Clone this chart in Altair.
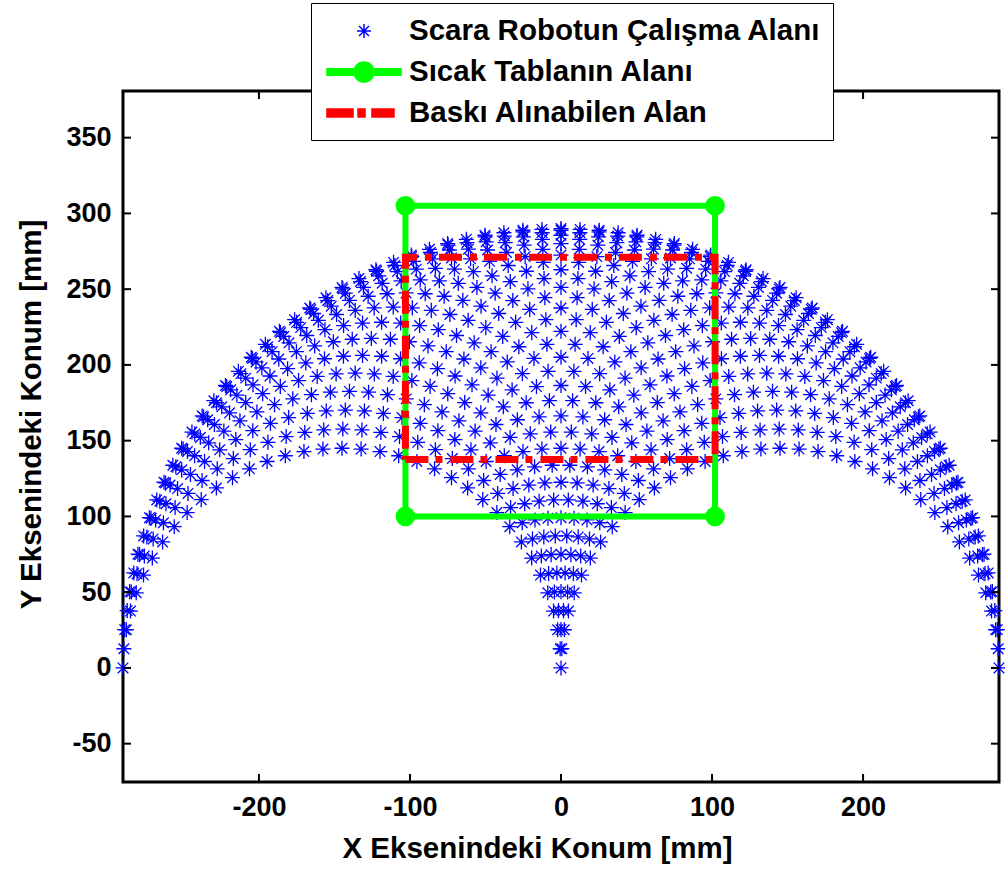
import math
import pandas as pd
import altair as alt

# ---------------- data ----------------
# SCARA arm: two equal links, absolute link angles swept in 5 degree steps
LINK_1_MM = 145.0
LINK_2_MM = 145.0
LINK_1_ANGLES_DEG = [0, 5, 10, 15, 20, 25, 30, 35, 40, 45, 50, 55, 60, 65, 70, 75, 80, 85, 90,
                     95, 100, 105, 110, 115, 120, 125, 130, 135, 140, 145, 150, 155, 160, 165,
                     170, 175, 180]
LINK_2_ANGLES_DEG = [0, 5, 10, 15, 20, 25, 30, 35, 40, 45, 50, 55, 60, 65, 70, 75, 80, 85, 90,
                     95, 100, 105, 110, 115, 120, 125, 130, 135, 140, 145, 150, 155, 160, 165,
                     170, 175, 180]

SERIES = ["Scara Robotun Çalışma Alanı", "Sıcak Tablanın Alanı", "Baskı Alınabilen Alan"]
COLORS = ["#0000ff", "#00ff00", "#ff0000"]

TABLE_X = [-103, 102, 102, -103, -103]
TABLE_Y = [100, 100, 305, 305, 100]
PRINT_X = [-103, 102, 102, -103, -103]
PRINT_Y = [137.5, 137.5, 271, 271, 137.5]

X_TICKS = [-200, -100, 0, 100, 200]
Y_TICKS = [-50, 0, 50, 100, 150, 200, 250, 300, 350]
X_DOMAIN = [-290, 290]
Y_DOMAIN = [-75.3, 380.8]

# ---------------- tables ----------------
seen = set()
ws_rows = []
for a in LINK_1_ANGLES_DEG:
    for b in LINK_2_ANGLES_DEG:
        ra, rb = math.radians(a), math.radians(b)
        x = LINK_1_MM * math.cos(ra) + LINK_2_MM * math.cos(rb)
        y = LINK_1_MM * math.sin(ra) + LINK_2_MM * math.sin(rb)
        key = (round(x, 4), round(y, 4))
        if key in seen:
            continue
        seen.add(key)
        ws_rows.append({"x": x, "y": y, "series": SERIES[0]})
ws = pd.DataFrame(ws_rows)

table = pd.DataFrame({"x": TABLE_X, "y": TABLE_Y, "i": list(range(len(TABLE_X))), "series": SERIES[1]})
corners = table.iloc[:4]
printable = pd.DataFrame({"x": PRINT_X, "y": PRINT_Y, "i": list(range(len(PRINT_X))), "series": SERIES[2]})
xt = pd.DataFrame({"x": X_TICKS})
yt = pd.DataFrame({"y": Y_TICKS})

# ---------------- styling ----------------
W, H = 876, 691
FONT = "Liberation Sans"

xs = alt.Scale(domain=X_DOMAIN, nice=False, zero=False)
ys = alt.Scale(domain=Y_DOMAIN, nice=False, zero=False)
xaxis = alt.Axis(title="X Eksenindeki Konum [mm]", values=X_TICKS, ticks=False, domain=False,
                 grid=False, labelPadding=12, titlePadding=14, titleX=414, titleAlign="center",
                 labelExpr="'' + datum.value")
yaxis = alt.Axis(title="Y Eksenindeki Konum [mm]", values=Y_TICKS, ticks=False, domain=False,
                 grid=False, labelPadding=12, titlePadding=19, titleY=323, titleAlign="center",
                 labelExpr="'' + datum.value")

# legend symbols (unit = 15 px at symbolSize 900)
ASTERISK = ("M-0.47,0L0.47,0M0,-0.47L0,0.47M-0.33,-0.33L0.33,0.33M-0.33,0.33L0.33,-0.33")
GREEN_SYM = ("M-2.47,-0.22L2.47,-0.22L2.47,0.22L-2.47,0.22Z"
             "M-0.67,0A0.67,0.67,0,1,1,0.67,0A0.67,0.67,0,1,1,-0.67,0Z")
RED_SYM = ("M-2.47,-0.27L-0.73,-0.27L-0.73,0.27L-2.47,0.27Z"
           "M-0.4,-0.27L0.07,-0.27L0.07,0.27L-0.4,0.27Z"
           "M0.53,-0.27L2.0,-0.27L2.0,0.27L0.53,0.27Z")

legend = alt.Legend(title=None, orient="none", legendX=188, legendY=-88,
                    fillColor="white", strokeColor="black", padding=12, cornerRadius=0,
                    symbolSize=900, symbolStrokeWidth=1.5, symbolOffset=25, labelOffset=29,
                    rowPadding=10, labelFontSize=29.5, labelFont=FONT, labelFontWeight="bold",
                    labelColor="black", labelLimit=1000)

fill_scale = alt.Scale(domain=SERIES, range=COLORS)
stroke_scale = alt.Scale(domain=SERIES, range=COLORS)
shape_scale = alt.Scale(domain=SERIES, range=[ASTERISK, GREEN_SYM, RED_SYM])

X = alt.X("x:Q", scale=xs, axis=xaxis)
Y = alt.Y("y:Q", scale=ys, axis=yaxis)

points = alt.Chart(ws).mark_point(filled=True, size=1024, strokeWidth=1.3, opacity=1).encode(
    x=X, y=Y,
    fill=alt.Fill("series:N", scale=fill_scale, legend=legend),
    stroke=alt.Stroke("series:N", scale=stroke_scale, legend=legend),
    shape=alt.Shape("series:N", scale=shape_scale, legend=legend),
)

green_line = alt.Chart(table).mark_line(strokeWidth=6).encode(
    x=X, y=Y, order="i:Q",
    stroke=alt.Stroke("series:N", scale=stroke_scale, legend=legend),
)
green_pts = alt.Chart(corners).mark_point(shape="circle", filled=True, size=314, opacity=1).encode(
    x=X, y=Y, fill=alt.value("#00ff00"), stroke=alt.value("#00ff00"),
)
red_line = alt.Chart(printable).mark_line(strokeWidth=7, strokeDash=[23, 7, 7, 8]).encode(
    x=X, y=Y, order="i:Q",
    stroke=alt.Stroke("series:N", scale=stroke_scale, legend=legend),
)

TL = 8
tick_style = dict(color="black", strokeWidth=2)
xt_bottom = alt.Chart(xt).mark_rule(**tick_style).encode(x=X, y=alt.value(H), y2=alt.value(H - TL))
xt_top = alt.Chart(xt).mark_rule(**tick_style).encode(x=X, y=alt.value(0), y2=alt.value(TL))
yt_left = alt.Chart(yt).mark_rule(**tick_style).encode(y=Y, x=alt.value(0), x2=alt.value(TL))
yt_right = alt.Chart(yt).mark_rule(**tick_style).encode(y=Y, x=alt.value(W), x2=alt.value(W - TL))

chart = alt.layer(
    points, green_line, green_pts, red_line, xt_bottom, xt_top, yt_left, yt_right
).properties(
    width=W, height=H,
    autosize=alt.AutoSizeParams(type="none"),
    padding={"left": 123, "top": 91, "right": 6, "bottom": 89},
    background="white",
).configure_view(
    stroke="black", strokeWidth=3, fill="white"
).configure_axis(
    labelFont=FONT, labelFontSize=27, labelFontWeight="bold", labelColor="black",
    titleFont=FONT, titleFontSize=29.5, titleFontWeight="bold", titleColor="black",
)

chart.save("out.html", embed_options={"renderer": "svg", "actions": False})
